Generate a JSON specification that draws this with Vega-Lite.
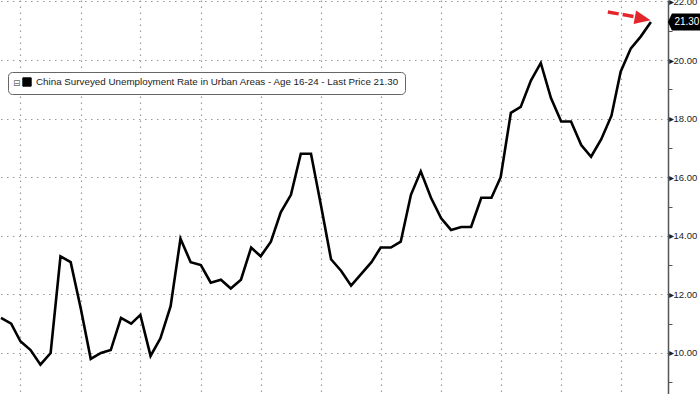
{
  "$schema": "https://vega.github.io/schema/vega-lite/v6.json",
  "width": 668,
  "height": 394,
  "autosize": {"type": "none"},
  "padding": {"left": 0, "top": 0, "right": 32, "bottom": 0},
  "background": "white",
  "config": {"view": {"stroke": null}, "font": "Liberation Sans"},
  "datasets": {
    "series": [
      {"date": "2018-01-01", "value": 11.2}, {"date": "2018-02-01", "value": 11.0}, {"date": "2018-03-01", "value": 10.4},
      {"date": "2018-04-01", "value": 10.1}, {"date": "2018-05-01", "value": 9.6}, {"date": "2018-06-01", "value": 10.0},
      {"date": "2018-07-01", "value": 13.3}, {"date": "2018-08-01", "value": 13.1}, {"date": "2018-09-01", "value": 11.5},
      {"date": "2018-10-01", "value": 9.8}, {"date": "2018-11-01", "value": 10.0}, {"date": "2018-12-01", "value": 10.1},
      {"date": "2019-01-01", "value": 11.2}, {"date": "2019-02-01", "value": 11.0}, {"date": "2019-03-01", "value": 11.3},
      {"date": "2019-04-01", "value": 9.9}, {"date": "2019-05-01", "value": 10.5}, {"date": "2019-06-01", "value": 11.6},
      {"date": "2019-07-01", "value": 13.9}, {"date": "2019-08-01", "value": 13.1}, {"date": "2019-09-01", "value": 13.0},
      {"date": "2019-10-01", "value": 12.4}, {"date": "2019-11-01", "value": 12.5}, {"date": "2019-12-01", "value": 12.2},
      {"date": "2020-01-01", "value": 12.5}, {"date": "2020-02-01", "value": 13.6}, {"date": "2020-03-01", "value": 13.3},
      {"date": "2020-04-01", "value": 13.8}, {"date": "2020-05-01", "value": 14.8}, {"date": "2020-06-01", "value": 15.4},
      {"date": "2020-07-01", "value": 16.8}, {"date": "2020-08-01", "value": 16.8}, {"date": "2020-09-01", "value": 15.0},
      {"date": "2020-10-01", "value": 13.2}, {"date": "2020-11-01", "value": 12.8}, {"date": "2020-12-01", "value": 12.3},
      {"date": "2021-01-01", "value": 12.7}, {"date": "2021-02-01", "value": 13.1}, {"date": "2021-03-01", "value": 13.6},
      {"date": "2021-04-01", "value": 13.6}, {"date": "2021-05-01", "value": 13.8}, {"date": "2021-06-01", "value": 15.4},
      {"date": "2021-07-01", "value": 16.2}, {"date": "2021-08-01", "value": 15.3}, {"date": "2021-09-01", "value": 14.6},
      {"date": "2021-10-01", "value": 14.2}, {"date": "2021-11-01", "value": 14.3}, {"date": "2021-12-01", "value": 14.3},
      {"date": "2022-01-01", "value": 15.3}, {"date": "2022-02-01", "value": 15.3}, {"date": "2022-03-01", "value": 16.0},
      {"date": "2022-04-01", "value": 18.2}, {"date": "2022-05-01", "value": 18.4}, {"date": "2022-06-01", "value": 19.3},
      {"date": "2022-07-01", "value": 19.9}, {"date": "2022-08-01", "value": 18.7}, {"date": "2022-09-01", "value": 17.9},
      {"date": "2022-10-01", "value": 17.9}, {"date": "2022-11-01", "value": 17.1}, {"date": "2022-12-01", "value": 16.7},
      {"date": "2023-01-01", "value": 17.3}, {"date": "2023-02-01", "value": 18.1}, {"date": "2023-03-01", "value": 19.6},
      {"date": "2023-04-01", "value": 20.4}, {"date": "2023-05-01", "value": 20.8}, {"date": "2023-06-01", "value": 21.3}
    ],
    "arrow": [{"date": "2023-01-21", "value": 21.64, "date2": "2023-04-19", "value2": 21.47}],
    "arrowhead": [{"date": "2023-05-07", "value": 21.41}],
    "last": [{"date": "2023-06-01", "value": 21.3, "label": "21.30"}]
  },
  "resolve": {"axis": {"y": "independent"}},
  "layer": [
    {
      "data": {"name": "series"},
      "mark": {"type": "line", "color": "black", "strokeWidth": 2.6},
      "encoding": {
        "x": {
          "field": "date", "type": "temporal",
          "scale": {"type": "utc", "domain": [{"year": 2017, "month": 12, "date": 29, "utc": true}, {"year": 2023, "month": 7, "date": 23, "utc": true}]},
          "axis": {
            "orient": "bottom", "title": null, "labels": false, "ticks": false, "domain": false,
            "grid": true, "gridColor": "#9a9a9a", "gridDash": [1.5, 4.5], "gridWidth": 1.2,
            "values": [
              {"year": 2018, "month": 3, "date": 1, "utc": true}, {"year": 2018, "month": 6, "date": 1, "utc": true}, {"year": 2018, "month": 9, "date": 1, "utc": true}, {"year": 2018, "month": 12, "date": 1, "utc": true},
              {"year": 2019, "month": 3, "date": 1, "utc": true}, {"year": 2019, "month": 6, "date": 1, "utc": true}, {"year": 2019, "month": 9, "date": 1, "utc": true}, {"year": 2019, "month": 12, "date": 1, "utc": true},
              {"year": 2020, "month": 3, "date": 1, "utc": true}, {"year": 2020, "month": 6, "date": 1, "utc": true}, {"year": 2020, "month": 9, "date": 1, "utc": true}, {"year": 2020, "month": 12, "date": 1, "utc": true},
              {"year": 2021, "month": 3, "date": 1, "utc": true}, {"year": 2021, "month": 6, "date": 1, "utc": true}, {"year": 2021, "month": 9, "date": 1, "utc": true}, {"year": 2021, "month": 12, "date": 1, "utc": true},
              {"year": 2022, "month": 3, "date": 1, "utc": true}, {"year": 2022, "month": 6, "date": 1, "utc": true}, {"year": 2022, "month": 9, "date": 1, "utc": true}, {"year": 2022, "month": 12, "date": 1, "utc": true},
              {"year": 2023, "month": 3, "date": 1, "utc": true}, {"year": 2023, "month": 6, "date": 1, "utc": true}
            ]
          }
        },
        "y": {
          "field": "value", "type": "quantitative",
          "scale": {"domain": [8.6, 22.05], "nice": false, "zero": false},
          "axis": {
            "orient": "right", "title": null,
            "values": [10, 12, 14, 16, 18, 20, 22],
            "grid": true, "gridColor": "#9a9a9a", "gridDash": [1.5, 4.5], "gridWidth": 1.2,
            "ticks": false,
            "domainColor": "#555", "domainWidth": 1.5,
            "labelExpr": "'▸' + format(datum.value, '.2f')",
            "labelOverlap": false, "labelBound": false, "labelFlush": false,
            "labelFont": "Liberation Sans", "labelFontSize": 9.5, "labelColor": "#222", "labelPadding": 0
          }
        },
        "color": {
          "datum": "China Surveyed Unemployment Rate in Urban Areas - Age 16-24 - Last Price 21.30",
          "scale": {"range": ["black"]},
          "legend": {
            "orient": "none", "legendX": 8, "legendY": 72, "direction": "horizontal",
            "title": "⊟", "titleOrient": "left", "titleFont": "DejaVu Sans", "titleFontSize": 9, "titleColor": "#666", "titleFontWeight": "normal", "titlePadding": 1,
            "fillColor": "white", "strokeColor": "#666", "cornerRadius": 4, "padding": 5,
            "symbolType": "square", "symbolSize": 70, "symbolFillColor": "black", "symbolStrokeColor": "black", "symbolStrokeWidth": 1,
            "labelFont": "Liberation Sans", "labelFontSize": 9.8, "labelColor": "#222", "labelLimit": 1000, "labelOffset": 4
          }
        }
      }
    },
    {
      "data": {"name": "arrow"},
      "mark": {"type": "rule", "color": "#e3262b", "strokeWidth": 3.5, "strokeDash": [11, 4]},
      "encoding": {
        "x": {"field": "date", "type": "temporal"},
        "x2": {"field": "date2"},
        "y": {
          "field": "value", "type": "quantitative",
          "axis": {
            "orient": "right", "title": null,
            "values": [9, 11, 13, 15, 17, 19, 21],
            "grid": false, "labels": false, "domain": false,
            "ticks": true, "tickSize": 4, "tickColor": "#555", "tickWidth": 1
          }
        },
        "y2": {"field": "value2"}
      }
    },
    {
      "data": {"name": "arrowhead"},
      "mark": {"type": "point", "shape": "M1,0L-1,-0.85L-1,0.85Z", "size": 256, "angle": 11, "filled": true, "color": "#e3262b", "opacity": 1},
      "encoding": {
        "x": {"field": "date", "type": "temporal"},
        "y": {"field": "value", "type": "quantitative", "axis": null}
      }
    },
    {
      "data": {"name": "last"},
      "mark": {"type": "point", "shape": "M0.34,0L0.42,-0.17L1.06,-0.17L1.06,0.17L0.42,0.17Z", "size": 10000, "filled": true, "color": "black", "opacity": 1},
      "encoding": {
        "x": {"field": "date", "type": "temporal"},
        "y": {"field": "value", "type": "quantitative", "axis": null}
      }
    },
    {
      "data": {"name": "last"},
      "mark": {"type": "text", "color": "white", "font": "Liberation Sans", "fontSize": 10, "dx": 36, "align": "center", "baseline": "middle"},
      "encoding": {
        "x": {"field": "date", "type": "temporal"},
        "y": {"field": "value", "type": "quantitative", "axis": null},
        "text": {"field": "label"}
      }
    }
  ]
}
